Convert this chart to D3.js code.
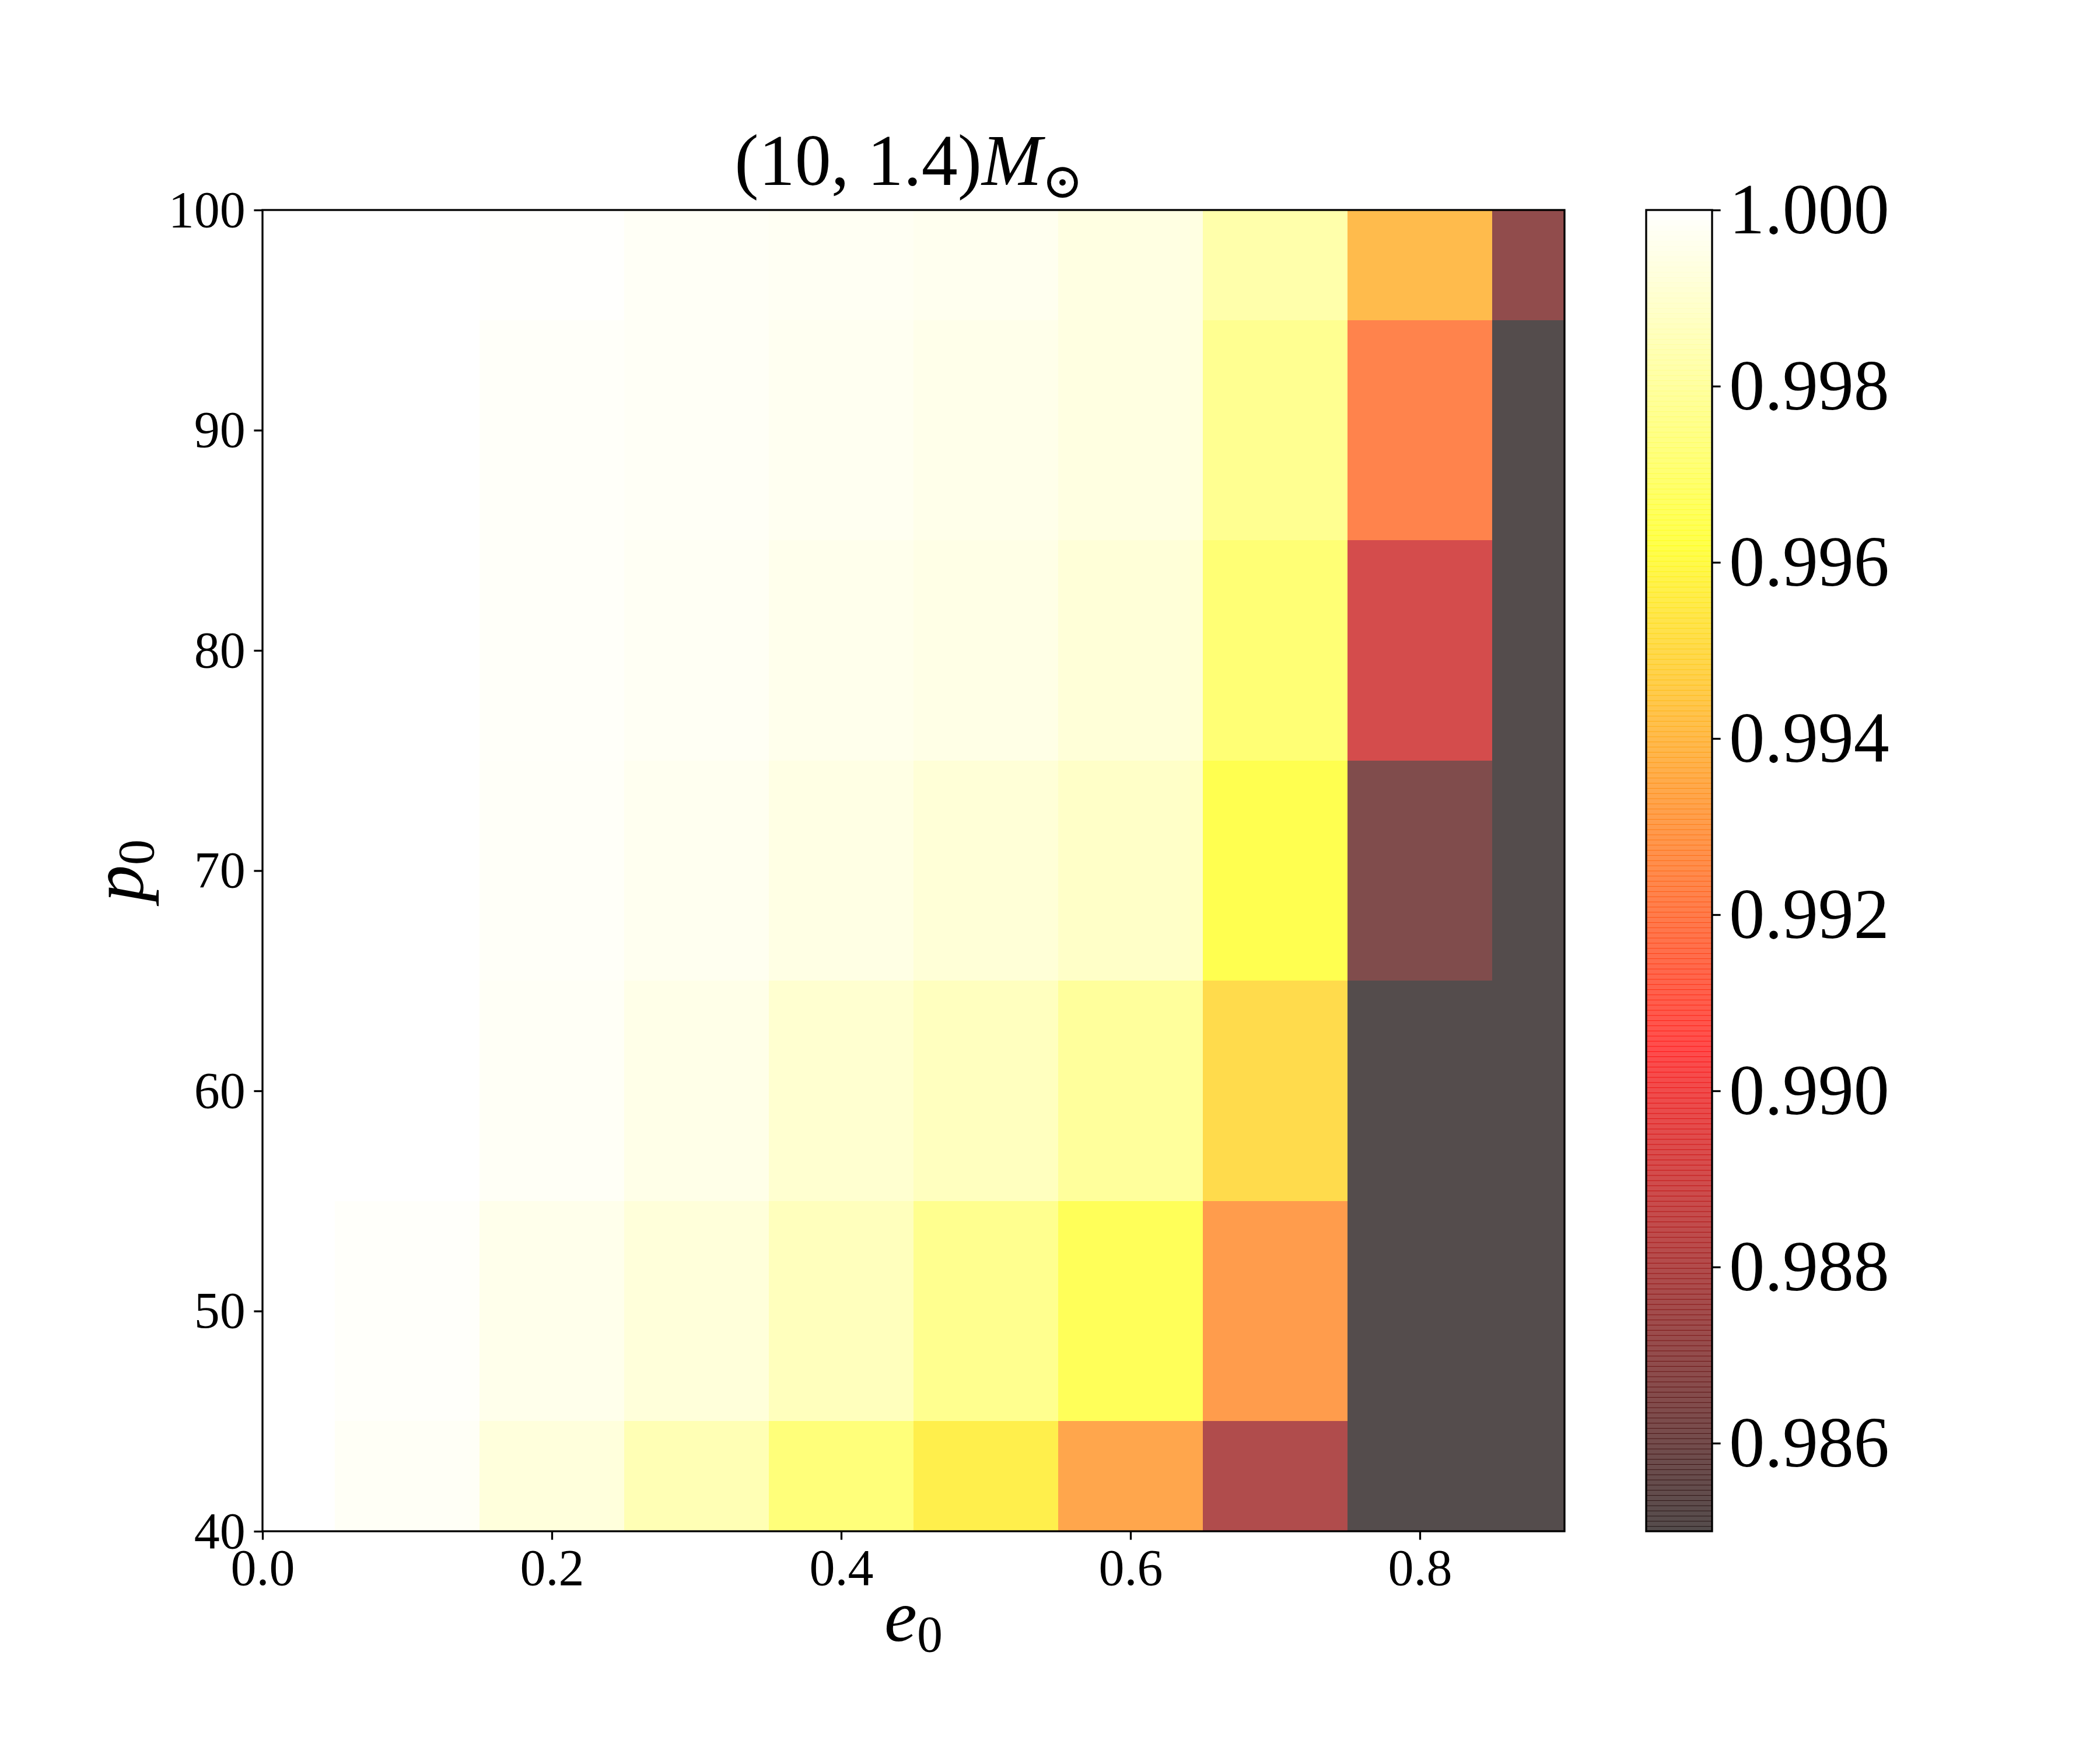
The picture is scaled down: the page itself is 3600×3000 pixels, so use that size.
<meta charset="utf-8">
<html>
<head>
<style>
  body { margin: 0; background: #fff; }
  text { font-family: "Liberation Serif", "DejaVu Serif", serif; fill: #000; }
</style>
</head>
<body>
<div id="chart"></div>
<script src="https://d3js.org/d3.v7.min.js"></script>
<script>
// grid of initial eccentricity (columns) and semi-latus rectum (rows)
var e0 = [0.0, 0.1, 0.2, 0.3, 0.4, 0.5, 0.6, 0.7, 0.8, 0.9];
var p0 = [40, 50, 60, 70, 80, 90, 100];

// match values, one row per p0 (values below 0.985 are shown as the colorbar minimum)
var overlap = [
  [1.0, 0.9998, 0.99925, 0.99842, 0.99716, 0.99568, 0.99334, 0.98795, 0.984, 0.984],
  [1.0, 0.9999, 0.99957, 0.99923, 0.99859, 0.99763, 0.99648, 0.99303, 0.984, 0.984],
  [1.0, 1.0, 0.9998, 0.9995, 0.9990, 0.99864, 0.99789, 0.99504, 0.984, 0.984],
  [1.0, 1.0, 0.99985, 0.99968, 0.99943, 0.99915, 0.99883, 0.99627, 0.98641, 0.984],
  [1.0, 1.0, 0.99987, 0.99976, 0.9996, 0.99947, 0.99917, 0.99706, 0.9891, 0.984],
  [1.0, 1.0, 0.99987, 0.9998, 0.9997, 0.99955, 0.99936, 0.99767, 0.99225, 0.984],
  [1.0, 1.0, 0.99995, 0.9998, 0.99974, 0.99966, 0.99938, 0.99821, 0.99401, 0.98696]
];

var xTicks = [0.0, 0.2, 0.4, 0.6, 0.8];
var yTicks = [40, 50, 60, 70, 80, 90, 100];
var cbTicks = [0.986, 0.988, 0.990, 0.992, 0.994, 0.996, 0.998, 1.000];
var vmin = 0.985, vmax = 1.0;

// plot box in pixels
var W = 3600, H = 3000;
var box = {left: 450, right: 2682, top: 360, bottom: 2625};
var cbox = {left: 2822, right: 2935};
var tickLen = 14.6, lw = 3.3;

var svg = d3.select("#chart").append("svg")
    .attr("width", W).attr("height", H)
    .style("background", "#fff");

var x = d3.scaleLinear().domain([0, 0.9]).range([box.left, box.right]);
var y = d3.scaleLinear().domain([40, 100]).range([box.bottom, box.top]);

// matplotlib "hot" colormap, alpha 0.7
var hot = d3.scaleLinear()
    .domain([0, 0.365079, 0.746032, 1])
    .range(["#0b0000", "#ff0000", "#ffff00", "#ffffff"])
    .interpolate(d3.interpolateRgb);
var norm = d3.scaleLinear().domain([vmin, vmax]).range([0, 1]).clamp(true);
function color(v) { return hot(norm(v)); }

svg.append("clipPath").attr("id", "plotclip")
  .append("rect")
    .attr("x", box.left).attr("y", box.top)
    .attr("width", box.right - box.left).attr("height", box.bottom - box.top);

// cells centred on grid points (nearest shading)
var de = e0[1] - e0[0], dp = p0[1] - p0[0];
var cells = [];
p0.forEach(function(p, i) {
  e0.forEach(function(e, j) {
    cells.push({e: e, p: p, v: overlap[i][j]});
  });
});

svg.append("g").attr("clip-path", "url(#plotclip)")
  .selectAll("rect").data(cells).enter().append("rect")
    .attr("x", function(d) { return x(d.e - de / 2); })
    .attr("y", function(d) { return y(d.p + dp / 2); })
    .attr("width", function(d) { return x(d.e + de / 2) - x(d.e - de / 2); })
    .attr("height", function(d) { return y(d.p - dp / 2) - y(d.p + dp / 2); })
    .attr("fill", function(d) { return color(d.v); })
    .attr("fill-opacity", 0.7)
    .attr("shape-rendering", "crispEdges");

// axes
var xAxis = svg.append("g")
    .attr("transform", "translate(0," + box.bottom + ")")
    .call(d3.axisBottom(x).tickValues(xTicks).tickFormat(d3.format(".1f"))
      .tickSize(tickLen).tickPadding(tickLen));
var yAxis = svg.append("g")
    .attr("transform", "translate(" + box.left + ",0)")
    .call(d3.axisLeft(y).tickValues(yTicks).tickFormat(d3.format("d"))
      .tickSize(tickLen).tickPadding(tickLen));
[xAxis, yAxis].forEach(function(a) {
  a.select(".domain").remove();
  a.selectAll("line").attr("stroke", "#000").attr("stroke-width", lw);
  a.selectAll("text").attr("font-family", null).attr("font-size", 88);
});

// frame
svg.append("rect")
    .attr("x", box.left).attr("y", box.top)
    .attr("width", box.right - box.left).attr("height", box.bottom - box.top)
    .attr("fill", "none").attr("stroke", "#000").attr("stroke-width", lw);

// colorbar
var cb = d3.scaleLinear().domain([vmin, vmax]).range([box.bottom, box.top]);
var nBands = 256;
var bands = d3.range(nBands);
var bandH = (box.bottom - box.top) / nBands;
svg.append("g").selectAll("rect").data(bands).enter().append("rect")
    .attr("x", cbox.left).attr("width", cbox.right - cbox.left)
    .attr("y", function(i) { return cb(vmin + (i + 1) * (vmax - vmin) / nBands); })
    .attr("height", function(i) { return i === nBands - 1 ? bandH : bandH + 1; })
    .attr("fill", function(i) { return hot((i + 0.5) / nBands); })
    .attr("fill-opacity", 0.7);
svg.append("rect")
    .attr("x", cbox.left).attr("y", box.top)
    .attr("width", cbox.right - cbox.left).attr("height", box.bottom - box.top)
    .attr("fill", "none").attr("stroke", "#000").attr("stroke-width", lw);
var cAxis = svg.append("g")
    .attr("transform", "translate(" + cbox.right + ",0)")
    .call(d3.axisRight(cb).tickValues(cbTicks).tickFormat(d3.format(".3f"))
      .tickSize(tickLen).tickPadding(tickLen));
cAxis.select(".domain").remove();
cAxis.selectAll("line").attr("stroke", "#000").attr("stroke-width", lw);
cAxis.selectAll("text").attr("font-family", null).attr("font-size", 122);

// title
var title = svg.append("text")
    .attr("x", (box.left + box.right) / 2 - 8).attr("y", 317)
    .attr("text-anchor", "middle").attr("font-size", 124);
title.append("tspan").text("(10, 1.4)");
title.append("tspan").attr("font-style", "italic").text("M");
title.append("tspan").attr("font-size", 84).attr("dy", 22)
    .attr("font-family", "DejaVu Serif").text("\u2299");

// axis labels
var xl = svg.append("text")
    .attr("x", (box.left + box.right) / 2).attr("y", 2813)
    .attr("text-anchor", "middle").attr("font-size", 126);
xl.append("tspan").attr("font-style", "italic").text("e");
xl.append("tspan").attr("font-size", 88).attr("dy", 18).text("0");

var yl = svg.append("text")
    .attr("transform", "translate(245," + (box.top + box.bottom) / 2 + ") rotate(-90)")
    .attr("text-anchor", "middle").attr("font-size", 126);
yl.append("tspan").attr("font-style", "italic").text("p");
yl.append("tspan").attr("font-size", 88).attr("dy", 18).text("0");
</script>
</body>
</html>
